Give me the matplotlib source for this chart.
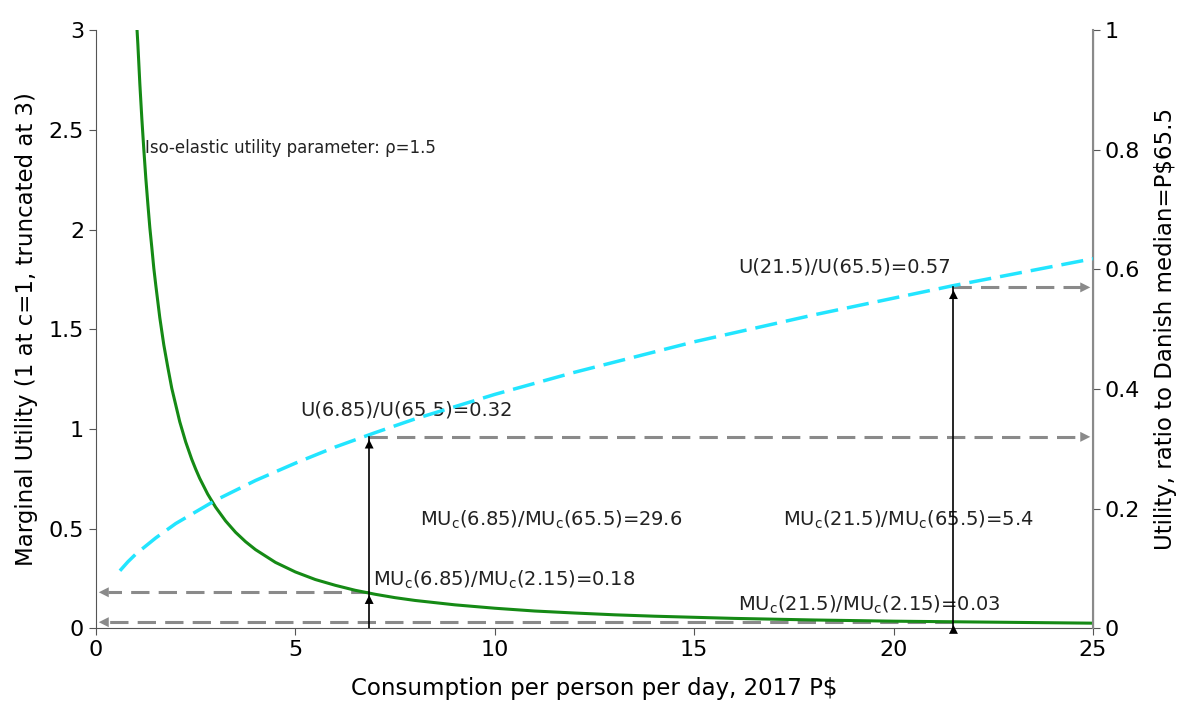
import matplotlib.pyplot as plt

# marginal utility (left axis)
mu_x = [1.03, 1.05, 1.1, 1.15, 1.2, 1.25, 1.3, 1.35, 1.4, 1.45, 1.5, 1.6, 1.7, 1.8, 1.9, 2.0,
        2.1, 2.25, 2.4, 2.5, 2.6, 2.8, 3.0, 3.25, 3.5, 3.75, 4.0, 4.5, 5.0, 5.5, 6.0, 6.5, 7.0,
        7.5, 8.0, 9.0, 10.0, 11.0, 12.0, 13.0, 14.0, 16.0, 18.0, 20.0, 22.0, 25.0]
mu_y = [3.0, 2.93, 2.73, 2.556, 2.40, 2.256, 2.13, 2.01, 1.91, 1.806, 1.72, 1.558, 1.422, 1.31,
        1.204, 1.12, 1.036, 0.934, 0.848, 0.798, 0.752, 0.673, 0.607, 0.538, 0.481, 0.434,
        0.394, 0.330, 0.282, 0.244, 0.215, 0.190, 0.170, 0.153, 0.139, 0.117, 0.100, 0.086,
        0.076, 0.067, 0.060, 0.049, 0.041, 0.035, 0.031, 0.025]

# utility ratio to Danish median (right axis)
u_x = [0.6, 0.8, 1.0, 1.5, 2.0, 3.0, 4.0, 5.0, 6.0, 7.0, 8.0, 10.0, 12.0, 15.0, 18.0, 21.5, 25.0]
u_y = [0.096, 0.111, 0.124, 0.151, 0.175, 0.214, 0.247, 0.276, 0.303, 0.327, 0.350, 0.391,
       0.428, 0.479, 0.524, 0.573, 0.618]

# marked consumption levels and their ratios
levels = [6.85, 21.5]
mu_ratio = [0.18, 0.03]      # MU(c)/MU(2.15), left axis
u_ratio = [0.32, 0.57]       # U(c)/U(65.5), right axis
mu_med = [29.6, 5.4]         # MU(c)/MU(65.5)

plt.rcParams['font.family'] = 'DejaVu Sans'

fig = plt.figure(figsize=(11.85, 7.05), dpi=100)
ax = fig.add_axes([0.081, 0.109, 0.8414, 0.848])
ax2 = ax.twinx()

gray = '#8a8a8a'
ax.plot(mu_x, mu_y, color='#158a15', lw=2.2, zorder=3)
ax2.plot(u_x, u_y, color='#22e5ff', lw=2.5, dashes=(6.4, 2.6), zorder=3)

for c, m, u in zip(levels, mu_ratio, u_ratio):
    # dashed gray arrows to the axes
    ax.plot([c, 0.3], [m, m], color=gray, lw=2.2, dashes=(6, 3), zorder=2)
    ax.annotate('', xy=(0, m), xytext=(0.5, m),
                arrowprops=dict(arrowstyle='-|>', color=gray, lw=0, mutation_scale=18))
    ax2.plot([c, 24.7], [u, u], color=gray, lw=2.2, dashes=(6, 3), zorder=2)
    ax2.annotate('', xy=(25, u), xytext=(24.5, u),
                 arrowprops=dict(arrowstyle='-|>', color=gray, lw=0, mutation_scale=18))
    # vertical black line with arrowheads
    ax2.plot([c, c], [0, u], color='black', lw=1.2, zorder=4)
    ax2.annotate('', xy=(c, u), xytext=(c, u - 0.02),
                 arrowprops=dict(arrowstyle='-|>', color='black', lw=0, mutation_scale=16))
    ax2.annotate('', xy=(c, m / 3), xytext=(c, m / 3 - 0.02),
                 arrowprops=dict(arrowstyle='-|>', color='black', lw=0, mutation_scale=16))

fs = 14
tc = '#222222'
ax.text(5.12, 1.094, 'U(6.85)/U(65.5)=%.2f' % u_ratio[0], fontsize=fs, va='center', color=tc)
ax.text(16.1, 1.81, 'U(21.5)/U(65.5)=%.2f' % u_ratio[1], fontsize=fs, va='center', color=tc)
ax.text(8.12, 0.542, r'MU$_\mathrm{c}$(6.85)/MU$_\mathrm{c}$(65.5)=%.1f' % mu_med[0],
        fontsize=fs, va='center', color=tc)
ax.text(17.23, 0.542, r'MU$_\mathrm{c}$(21.5)/MU$_\mathrm{c}$(65.5)=%.1f' % mu_med[1],
        fontsize=fs, va='center', color=tc)
ax.text(6.95, 0.241, r'MU$_\mathrm{c}$(6.85)/MU$_\mathrm{c}$(2.15)=%.2f' % mu_ratio[0],
        fontsize=fs, va='center', color=tc)
ax.text(16.1, 0.115, r'MU$_\mathrm{c}$(21.5)/MU$_\mathrm{c}$(2.15)=%.2f' % mu_ratio[1],
        fontsize=fs, va='center', color=tc)
ax.text(1.23, 2.41, 'Iso-elastic utility parameter: ρ=1.5', fontsize=12, va='center', color=tc)

ax.set_xlim(0, 25)
ax.set_ylim(0, 3)
ax2.set_ylim(0, 1)
ax.set_xticks([0, 5, 10, 15, 20, 25])
ax.set_yticks([0, 0.5, 1, 1.5, 2, 2.5, 3])
ax.set_yticklabels(['0', '0.5', '1', '1.5', '2', '2.5', '3'])
ax2.set_yticks([0, 0.2, 0.4, 0.6, 0.8, 1])
ax2.set_yticklabels(['0', '0.2', '0.4', '0.6', '0.8', '1'])

ax.set_xlabel('Consumption per person per day, 2017 P$', fontsize=16.5, labelpad=12)
ax.set_ylabel('Marginal Utility (1 at c=1, truncated at 3)', fontsize=16.5, labelpad=8)
ax2.set_ylabel('Utility, ratio to Danish median=P$65.5', fontsize=16.5, labelpad=10)

for a in (ax, ax2):
    a.spines['top'].set_visible(False)
    a.tick_params(labelsize=16, length=5, color='#555555')
ax.spines['left'].set_color('#555555')
ax.spines['bottom'].set_color('#555555')
ax2.spines['right'].set_color(gray)
ax2.spines['right'].set_linewidth(1.5)
ax2.spines['left'].set_visible(False)
ax2.spines['bottom'].set_visible(False)

fig.savefig('out.png', dpi=100)
